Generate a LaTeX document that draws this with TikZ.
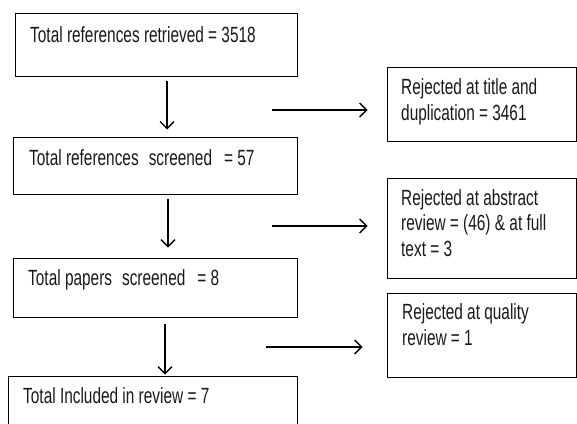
\documentclass[tikz,border=0pt]{standalone}
\usepackage{fontspec}
\setmainfont[FakeStretch=0.7]{Liberation Sans}
\usetikzlibrary{arrows.meta}
\begin{document}
\begin{tikzpicture}[x=1pt,y=-1pt,
  box/.style={draw=black,line width=1pt,rectangle,inner sep=0pt},
  txt/.style={inner sep=0pt,anchor=base west,align=left,font=\fontsize{22}{25.5}\selectfont,text=black!90},
  conn/.style={line width=1.3pt,-{Straight Barb[length=7pt,width=14pt,line width=1.3pt]}}]
\useasboundingbox (0,0) rectangle (577,423);
\clip (0,0) rectangle (577,423);
% main boxes
\node[box,minimum width=282pt,minimum height=63pt] (b1) at (156,44.5) {};
\node[box,minimum width=284pt,minimum height=57pt] (b2) at (155,165.5) {};
\node[box,minimum width=284pt,minimum height=59pt] (b3) at (155,287.5) {};
\node[box,minimum width=289pt,minimum height=64pt] (b4) at (152.5,408) {};
% side boxes
\node[box,minimum width=189pt,minimum height=74pt] (r1) at (481.5,104) {};
\node[box,minimum width=189pt,minimum height=100pt] (r2) at (481.5,228) {};
\node[box,minimum width=189pt,minimum height=84pt] (r3) at (481.5,335) {};
% texts
\node[txt] (t1) at (30,42) {Total references retrieved = 3518};
\node[txt] (t2) at (29,165) {Total references\hspace{10pt}screened\hspace{12pt}= 57};
\node[txt] (t3) at (28,285) {Total papers\hspace{10pt}screened\hspace{12pt}= 8};
\node[txt] (t4) at (23,403) {Total Included in review = 7};
\node[txt] (s1) at (401,120) {Rejected at title and\\duplication = 3461};
\node[txt] (s2) at (401,256) {Rejected at abstract\\review = (46) \& at full\\text = 3};
\node[txt] (s3) at (402,345) {Rejected at quality\\review = 1};
% vertical connectors
\draw[conn] ([xshift=11pt,yshift=-4pt]b1.south) -- ([xshift=12pt,yshift=7pt]b2.north);
\draw[conn] ([xshift=13pt,yshift=-4pt]b2.south) -- ([xshift=13pt,yshift=10pt]b3.north);
\draw[conn] ([xshift=10pt,yshift=-6pt]b3.south) -- ([xshift=12.5pt,yshift=1pt]b4.north);
% horizontal connectors
\coordinate (h1) at (272,110);
\coordinate (h2) at (272,226);
\coordinate (h3) at (266,347);
\draw[conn] (h1) -- ([xshift=-19pt,yshift=-6pt]r1.west);
\draw[conn] (h2) -- ([xshift=-19pt,yshift=2pt]r2.west);
\draw[conn] (h3) -- ([xshift=-24pt,yshift=-12pt]r3.west);
\end{tikzpicture}
\end{document}
